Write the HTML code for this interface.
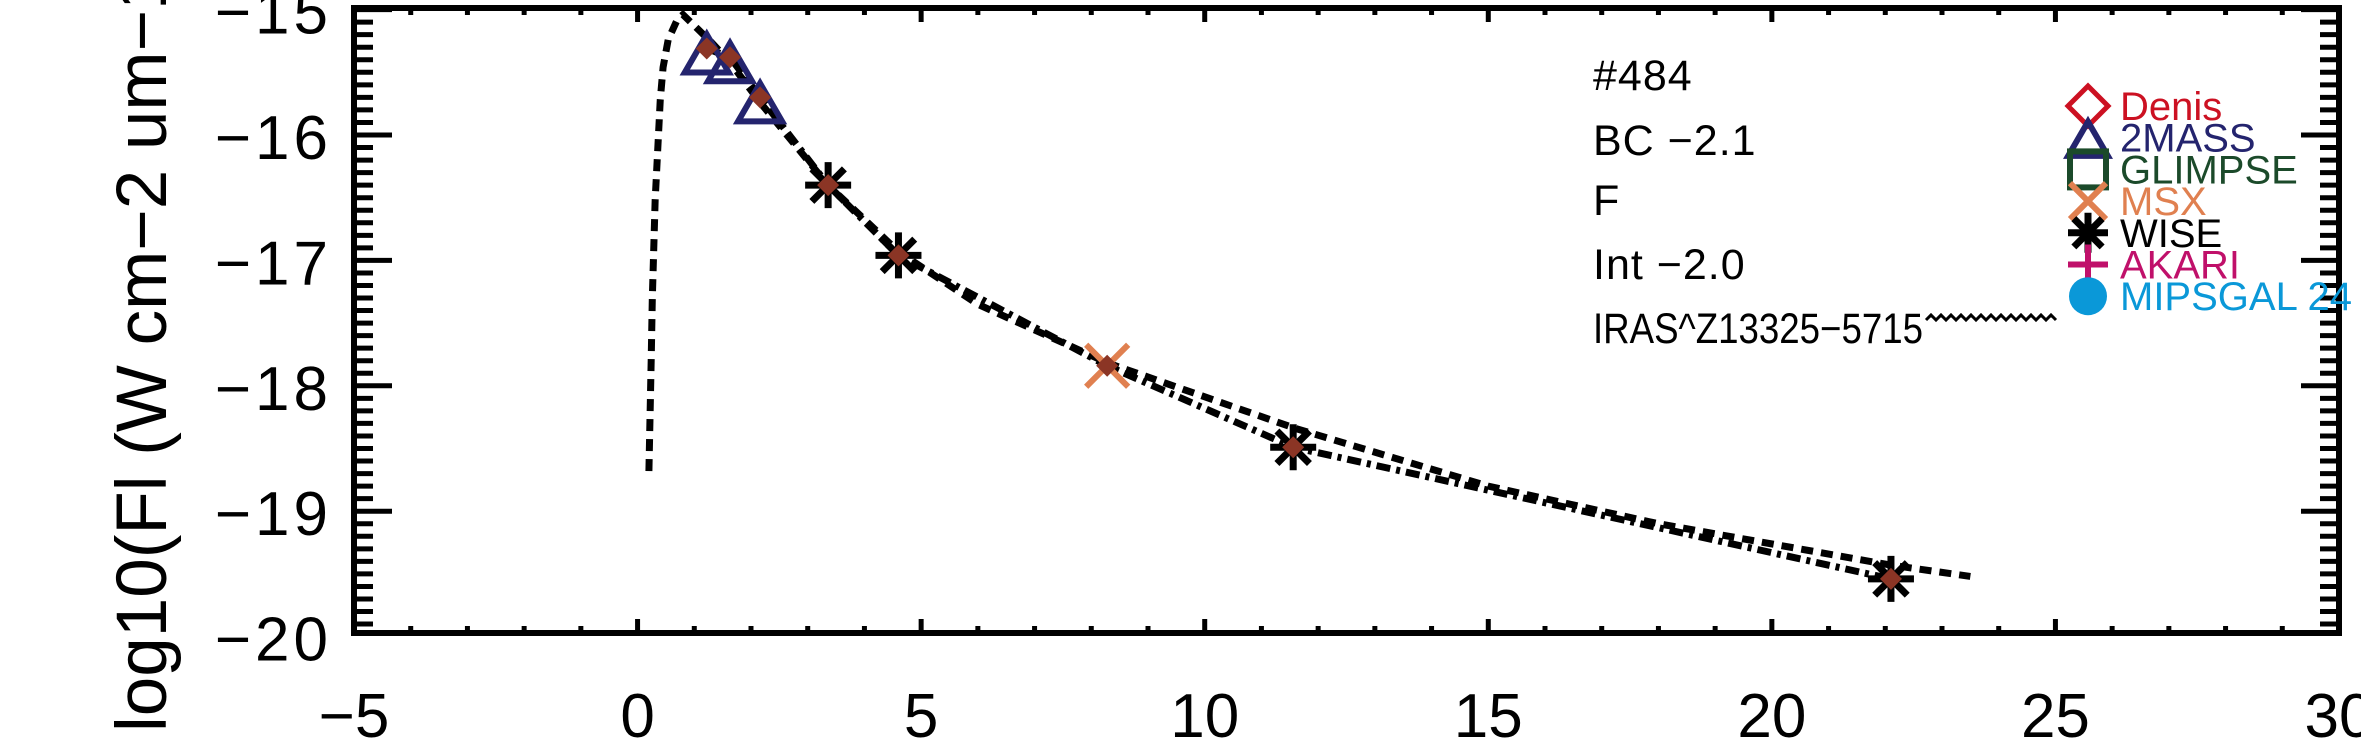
<!DOCTYPE html>
<html><head><meta charset="utf-8"><style>
html,body{margin:0;padding:0;background:#fff;}
svg{display:block;font-family:"Liberation Sans",sans-serif;}
</style></head><body>
<svg id="chart" width="2361" height="750" viewBox="0 0 2361 750" xmlns="http://www.w3.org/2000/svg">
<text transform="translate(166,732) rotate(-90)" font-size="71" fill="#000">log10(Fl (W cm−2 um−1))</text>
<g id="axes"></g>
<g id="series"></g>
<g font-size="43" fill="#000" letter-spacing="1">
<text x="1593" y="90">#484</text>
<text x="1593" y="155">BC  −2.1</text>
<text x="1593" y="215">F</text>
<text x="1593" y="279">Int  −2.0</text>
<text x="1593" y="343" textLength="330" lengthAdjust="spacingAndGlyphs" letter-spacing="0">IRAS^Z13325−5715</text>
<path d="M1926 320 l5 -5 l5 5 l5 -5 l5 5 l5 -5 l5 5 l5 -5 l5 5 l5 -5 l5 5 l5 -5 l5 5 l5 -5 l5 5 l5 -5 l5 5 l5 -5 l5 5 l5 -5 l5 5 l5 -5 l5 5 l5 -5 l5 5 l5 -5 l5 5" fill="none" stroke="#000" stroke-width="3"/>
</g>
<g id="legend" font-size="40"></g>
</svg>
<script>
const xTicks=[-5,0,5,10,15,20,25,30];
const yTicks=[-15,-16,-17,-18,-19,-20];
const blueX=[1.22,1.63,2.16];
const blueY=[-15.31,-15.38,-15.70];
const wiseX=[3.36,4.6,11.56,22.1];
const wiseY=[-16.40,-16.96,-18.49,-19.54];
const msxX=[8.28];
const msxY=[-17.84];
const modelX=[1.22,1.63,2.16,3.36,4.6,8.28,11.56,22.1];
const modelY=[-15.31,-15.38,-15.70,-16.40,-16.96,-17.84,-18.49,-19.54];
const bbX=[0.2,0.24,0.26,0.31,0.4,0.45,0.54,0.7,0.8,1.05,1.3,1.63,2.16,3.36,4.6,6,8.3,11.6,15,18,22.1,23.5];
const bbY=[-18.68,-17.8,-17.3,-16.52,-15.72,-15.46,-15.24,-15.08,-15.04,-15.15,-15.26,-15.42,-15.74,-16.40,-16.93,-17.35,-17.82,-18.34,-18.8,-19.1,-19.43,-19.52];
const ddX=modelX, ddY=modelY;
const legendNames=["Denis","2MASS","GLIMPSE","MSX","WISE","AKARI","MIPSGAL 24"];
const legendColors=["#cc1122","#24246e","#1b4a2a","#e08050","#000000","#c0106a","#0a98d8"];

const NS="http://www.w3.org/2000/svg";
const X0=354,X1=2339,Y0=9.6,YS=125.4;
const sx=v=>X0+(v+5)*(X1-X0)/35;
const sy=v=>Y0+(-15-v)*YS;
function mk(tag,attrs,parent){const e=document.createElementNS(NS,tag);for(const k in attrs)e.setAttribute(k,attrs[k]);parent.appendChild(e);return e;}
const axes=document.getElementById('axes'),ser=document.getElementById('series'),leg=document.getElementById('legend');
const frameTop=8,frameBot=633;
const fr=mk('rect',{x:X0,y:frameTop,width:X1-X0,height:frameBot-frameTop,fill:'none',stroke:'#000','stroke-width':6},axes);


for(let v=-5;v<=30;v++){
  const major=v%5===0,L=major?14:7,x=sx(v);
  mk('line',{x1:x,x2:x,y1:frameBot,y2:frameBot-L,stroke:'#000','stroke-width':5},axes);
  mk('line',{x1:x,x2:x,y1:frameTop,y2:frameTop+L,stroke:'#000','stroke-width':5},axes);
}
xTicks.forEach(v=>{const t=mk('text',{x:sx(v),y:737,'text-anchor':'middle','font-size':62},axes);t.textContent=(v<0?'−':'')+Math.abs(v);

});
for(let i=0;i<=50;i++){
  const v=-15-i*0.1,major=i%10===0,L=major?38:19,y=sy(v);
  if(y<frameTop||y>frameBot+2)continue;
  mk('line',{x1:X0,x2:X0+L,y1:y,y2:y,stroke:'#000','stroke-width':5},axes);
  mk('line',{x1:X1,x2:X1-L,y1:y,y2:y,stroke:'#000','stroke-width':5},axes);
}
yTicks.forEach(v=>{const t=mk('text',{x:332,y:sy(v)+24,'text-anchor':'end','font-size':62,'letter-spacing':4},axes);t.textContent='−'+Math.abs(v);

});
function poly(xs,ys,dash,name){const p=mk('polyline',{points:xs.map((x,i)=>sx(x)+','+sy(ys[i])).join(' '),fill:'none',stroke:'#000','stroke-width':7,'stroke-dasharray':dash},ser);

}
poly(bbX,bbY,'12 8','blackbody-dashed-line');
poly(ddX,ddY,'14 6 4 6','model-dashdot-line');
function star(x,y,s,col,g){for(let a=0;a<180;a+=45){const r=a*Math.PI/180;mk('line',{x1:x-s*Math.cos(r),y1:y-s*Math.sin(r),x2:x+s*Math.cos(r),y2:y+s*Math.sin(r),stroke:col,'stroke-width':7},g);}}
function cross(x,y,s,col,g){mk('path',{d:`M${x-s} ${y-s}L${x+s} ${y+s}M${x+s} ${y-s}L${x-s} ${y+s}`,stroke:col,'stroke-width':6,fill:'none'},g);}
function tri(x,y,s,col,g){mk('path',{d:`M${x} ${y-s}L${x+s*1.1} ${y+s*0.9}L${x-s*1.1} ${y+s*0.9}Z`,stroke:col,'stroke-width':6,fill:'none'},g);}
function diam(x,y,s,col,g,fill){mk('path',{d:`M${x} ${y-s}L${x+s} ${y}L${x} ${y+s}L${x-s} ${y}Z`,stroke:col,'stroke-width':fill?0:5,fill:fill||'none'},g);}
blueX.forEach((v,i)=>{const g=mk('g',{},ser);


tri(sx(v),sy(blueY[i])+6,20,'#24246e',g);});
wiseX.forEach((v,i)=>{const g=mk('g',{},ser);


star(sx(v),sy(wiseY[i]),23,'#000',g);});
msxX.forEach((v,i)=>{const g=mk('g',{},ser);


cross(sx(v),sy(msxY[i]),21,'#e08050',g);});
modelX.forEach((v,i)=>{const g=mk('g',{},ser);


diam(sx(v),sy(modelY[i]),11,'#8b3525',g,'#8b3525');});
legendNames.forEach((n,i)=>{
  const y=120+i*31.7,mx=2088,my=y-14,c=legendColors[i];
  const g=mk('g',{},leg);
  
  
  if(i===0)diam(mx,my,20,c,g);
  if(i===1)tri(mx,my+2,18,c,g);
  if(i===2)mk('rect',{x:mx-18,y:my-18,width:36,height:36,fill:'none',stroke:c,'stroke-width':6},g);
  if(i===3)cross(mx,my,18,c,g);
  if(i===4)star(mx,my,20,c,g);
  if(i===5)mk('path',{d:`M${mx-20} ${my}H${mx+20}M${mx} ${my-20}V${my+20}`,stroke:c,'stroke-width':6},g);
  if(i===6)mk('circle',{cx:mx,cy:my,r:19,fill:c},g);
  const t=mk('text',{x:2120,y:y,fill:c},g);t.textContent=n;
});
</script>
</body></html>
